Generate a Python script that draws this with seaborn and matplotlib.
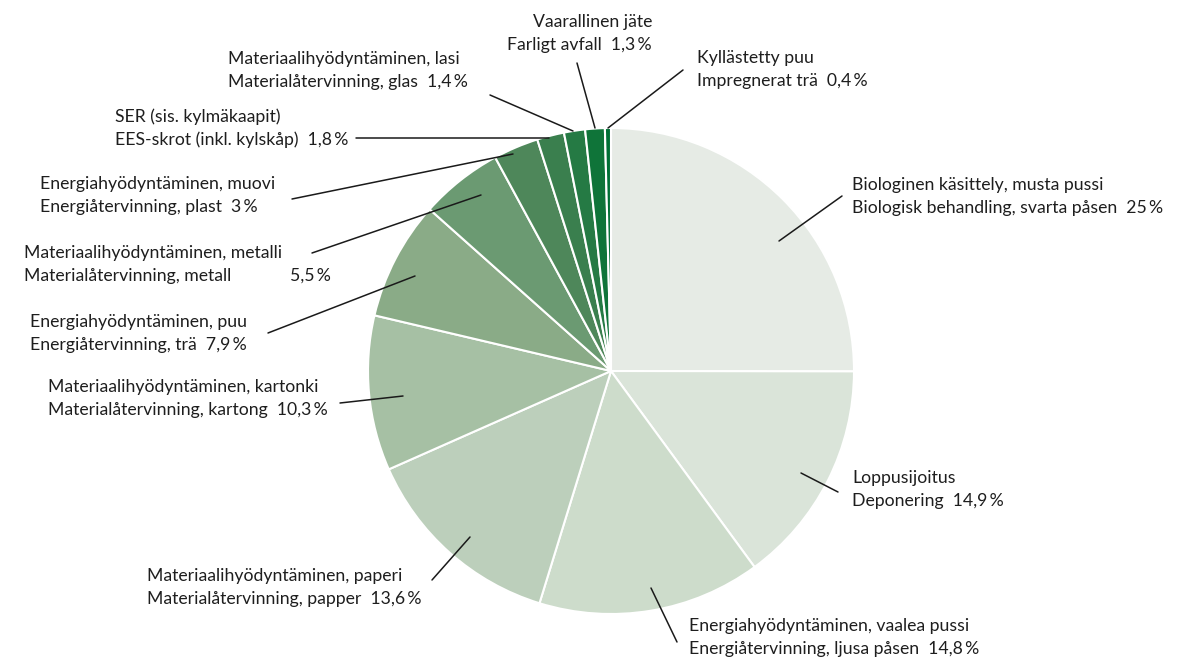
import matplotlib
matplotlib.use("Agg")
import matplotlib.pyplot as plt
import seaborn as sns

sns.set_theme(style="white")
plt.rcParams['font.family'] = ['Lato', 'DejaVu Sans']

# waste fractions, clockwise from 12 o'clock
labels_fi = ['Biologinen käsittely, musta pussi', 'Loppusijoitus',
             'Energiahyödyntäminen, vaalea pussi', 'Materiaalihyödyntäminen, paperi',
             'Materiaalihyödyntäminen, kartonki', 'Energiahyödyntäminen, puu',
             'Materiaalihyödyntäminen, metalli', 'Energiahyödyntäminen, muovi',
             'SER (sis. kylmäkaapit)', 'Materiaalihyödyntäminen, lasi',
             'Vaarallinen jäte', 'Kyllästetty puu']
labels_sv = ['Biologisk behandling, svarta påsen', 'Deponering',
             'Energiåtervinning, ljusa påsen', 'Materialåtervinning, papper',
             'Materialåtervinning, kartong', 'Energiåtervinning, trä',
             'Materialåtervinning, metall', 'Energiåtervinning, plast',
             'EES-skrot (inkl. kylskåp)', 'Materialåtervinning, glas',
             'Farligt avfall', 'Impregnerat trä']
shares = [25, 14.9, 14.8, 13.6, 10.3, 7.9, 5.5, 3, 1.8, 1.4, 1.3, 0.4]
colors = ['#e6ebe5', '#dae4d9', '#cddccb', '#bccfbb', '#a6c0a4', '#8aab87',
          '#6b9a72', '#4e875a', '#3a7f4e', '#257a44', '#0f7439', '#006f35']

W, H = 1198, 658
fig = plt.figure(figsize=(W / 100, H / 100), dpi=100)
ax = fig.add_axes([0, 0, 1, 1])


def P(x, y):
    # image pixel coords -> data coords (y up)
    return x, H - y


ax.pie(shares, colors=colors, startangle=90, counterclock=False,
       radius=243, center=P(611, 371),
       wedgeprops=dict(edgecolor='white', linewidth=1.5))
ax.set_xlim(0, W)
ax.set_ylim(0, H)
ax.set_aspect('equal')
ax.axis('off')

# label layout: text anchor (x, y of first line), alignment, leader start, leader end
layout = [
    ((852, 185), 'left', (779, 241), (842, 196)),
    ((852, 478), 'left', (801, 473), (838, 492)),
    ((689, 626), 'left', (651, 588), (677, 642)),
    ((147, 576), 'left', (470, 537), (432, 580)),
    ((48, 387), 'left', (403, 396), (340, 403)),
    ((30, 322), 'left', (415, 276), (268, 333)),
    ((24, 253), 'left', (481, 195), (312, 253)),
    ((40, 184), 'left', (513, 154), (292, 199)),
    ((115, 117), 'left', (549, 138), (356, 138)),
    ((228, 59), 'left', (573, 131), (490, 95)),
    ((652, 22), 'right', (595, 128), (577, 63)),
    ((697, 58), 'left', (608, 128), (683, 70)),
]
# the metal share sits in its own column
value_x = {6: 290}

fs = 12.7
tc = '#1e1e1e'
for i, (fi, sv, val) in enumerate(zip(labels_fi, labels_sv, shares)):
    (tx, ty), ha, (sx, sy), (ex, ey) = layout[i]
    vs = f'{val:g}'.replace('.', ',') + '\u2009%'
    ax.plot(*zip(P(sx, sy), P(ex, ey)), color='#1a1a1a', lw=1.1)
    ax.text(*P(tx, ty), fi, ha=ha, va='center', fontsize=fs, color=tc)
    if i in value_x:
        ax.text(*P(tx, ty + 23), sv, ha=ha, va='center', fontsize=fs, color=tc)
        ax.text(*P(value_x[i], ty + 23), vs, ha='left', va='center',
                fontsize=fs, color=tc)
    else:
        ax.text(*P(tx, ty + 23), f'{sv}  {vs}', ha=ha, va='center',
                fontsize=fs, color=tc)

fig.savefig('out.png', dpi=100, facecolor='white')
